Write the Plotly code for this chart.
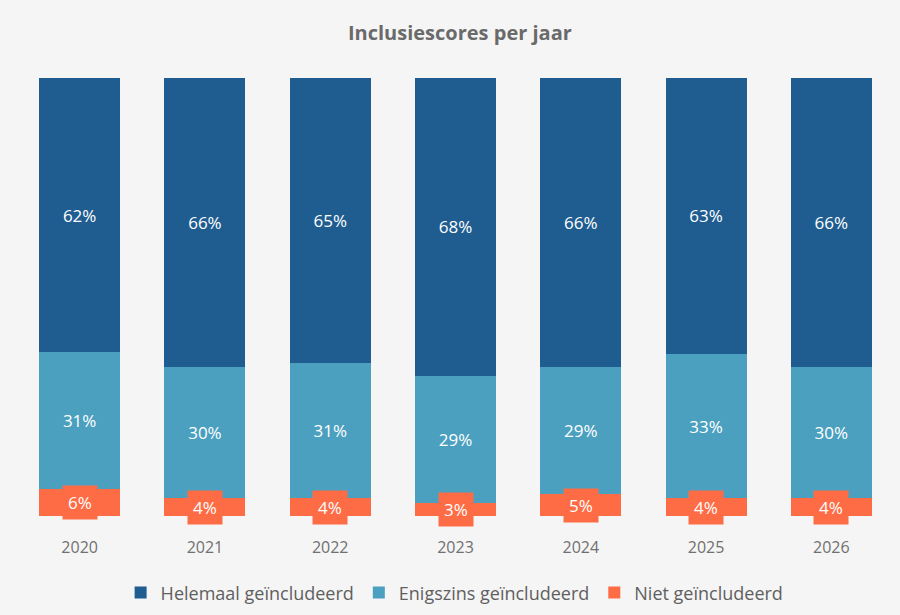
import plotly.graph_objects as go

years = ["2020", "2021", "2022", "2023", "2024", "2025", "2026"]
helemaal = [62, 66, 65, 68, 66, 63, 66]
enigszins = [31, 30, 31, 29, 29, 33, 30]
niet = [6, 4, 4, 3, 5, 4, 4]

c_dark = "#1f5d91"
c_light = "#4ba0c0"
c_orange = "#fd6c45"
font_family = "'Open Sans', Lato, sans-serif"

fig = go.Figure()
fig.add_trace(go.Bar(
    x=years, y=niet, name="Niet geïncludeerd",
    marker=dict(color=c_orange, line=dict(width=0)),
    hoverinfo="skip",
))
fig.add_trace(go.Bar(
    x=years, y=enigszins, name="Enigszins geïncludeerd",
    marker=dict(color=c_light, line=dict(width=0)),
    text=[f"{v}%" for v in enigszins], texttemplate="%{text}",
    textposition="inside", insidetextanchor="middle",
    textfont=dict(color="white", size=17, family=font_family),
))
fig.add_trace(go.Bar(
    x=years, y=helemaal, name="Helemaal geïncludeerd",
    marker=dict(color=c_dark, line=dict(width=0)),
    text=[f"{v}%" for v in helemaal], texttemplate="%{text}",
    textposition="inside", insidetextanchor="middle",
    textfont=dict(color="white", size=17, family=font_family),
))

annotations = []
for i, (h, e, n) in enumerate(zip(helemaal, enigszins, niet)):
    total = h + e + n
    ypos = n / total * 100 / 2
    annotations.append(dict(
        x=i, y=ypos, xref="x", yref="y", text=f"{n}%", showarrow=False,
        font=dict(color="white", size=17, family=font_family),
        bgcolor=c_orange, borderpad=5, xanchor="center", yanchor="middle",
    ))

fig.update_layout(
    width=900, height=615,
    barmode="stack", barnorm="percent", bargap=0.353,
    paper_bgcolor="#f5f5f5", plot_bgcolor="#f5f5f5",
    margin=dict(l=17, r=6, t=78, b=99, autoexpand=False),
    title=dict(text="<b>Inclusiescores per jaar</b>", x=0.511, xanchor="center",
               y=0.946, yanchor="middle",
               font=dict(size=20, color="#6a6a6a", family=font_family)),
    xaxis=dict(type="category", range=[-0.5, len(years) - 0.5],
               showgrid=False, showline=False, ticks="", ticklabelstandoff=20,
               tickfont=dict(size=16, color="#707070", family=font_family)),
    yaxis=dict(visible=False, range=[0, 100], showgrid=False),
    legend=dict(orientation="h", x=0.499, xanchor="center",
                yref="container", y=0.036, yanchor="middle",
                traceorder="reversed",
                font=dict(size=18, color="#5f5f5f", family=font_family)),
    annotations=annotations,
)

fig.write_html("out.html")
